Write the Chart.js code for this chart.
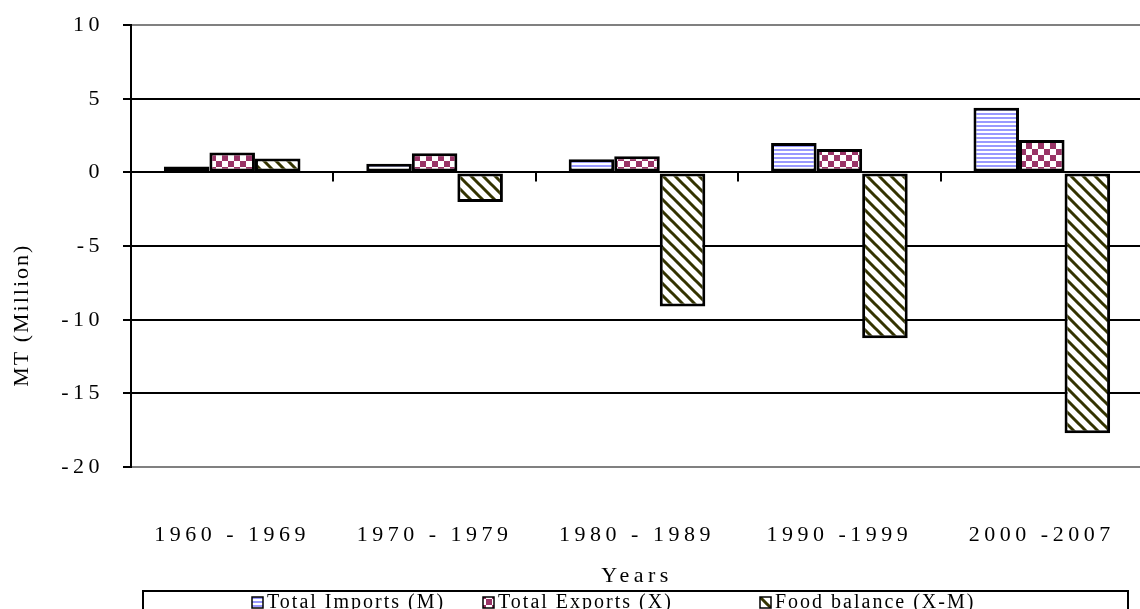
<!DOCTYPE html>
<html>
<head>
<meta charset="utf-8">
<script src="https://cdn.jsdelivr.net/npm/chart.js@4.4.1/dist/chart.umd.min.js"></script>
<style>
  html, body { margin: 0; padding: 0; background: #fff; overflow: hidden; }
  #balanceChart { display: block; margin-top: -7px; }
</style>
</head>
<body>
<canvas id="balanceChart" width="1170" height="631"></canvas>
<script>
// Data (MT, million)
const periods = ["1960 - 1969", "1970 - 1979", "1980 - 1989", "1990 -1999", "2000 -2007"];
const imports = [0.4, 0.6, 0.9, 2.0, 4.4];
const exportsX = [1.35, 1.3, 1.1, 1.6, 2.2];
const foodBalance = [0.95, -2.0, -9.1, -11.25, -17.7];
const seriesNames = ["Total Imports (M)", "Total Exports (X)", "Food balance (X-M)"];
const yMin = -20, yMax = 10, yStep = 5;

const SERIF = "'Liberation Serif', 'DejaVu Serif', serif";

// Fill patterns like the old Excel ones
function makeTile(w, h, paint) {
  const c = document.createElement("canvas");
  c.width = w; c.height = h;
  const g = c.getContext("2d");
  g.fillStyle = "#fff";
  g.fillRect(0, 0, w, h);
  paint(g);
  return document.createElement("canvas").getContext("2d").createPattern(c, "repeat");
}

const stripes = makeTile(4, 4, (g) => {
  g.fillStyle = "#9999ff";
  g.fillRect(0, 0, 4, 2);
});

const checker = makeTile(12, 12, (g) => {
  g.fillStyle = "#993366";
  g.fillRect(0, 0, 6, 6);
  g.fillRect(6, 6, 6, 6);
});

const diagonal = makeTile(12, 12, (g) => {
  g.strokeStyle = "#333300";
  g.lineWidth = 3;
  g.beginPath();
  g.moveTo(-3, -3); g.lineTo(15, 15);
  g.moveTo(-3, 9); g.lineTo(3, 15);
  g.moveTo(9, -3); g.lineTo(15, 3);
  g.stroke();
});

// Wider letters, like the scanned chart
const spacing = {
  id: "spacing",
  beforeLayout(chart) { chart.ctx.letterSpacing = "4.5px"; },
  beforeDraw(chart) { chart.ctx.letterSpacing = "4.5px"; }
};

// Small tick marks on the zero line between categories + y title + boxed legend
const extras = {
  id: "extras",
  afterDraw(chart) {
    const ctx = chart.ctx;
    const x = chart.scales.x;
    const y = chart.scales.y;
    const area = chart.chartArea;
    const y0 = y.getPixelForValue(0);
    const step = x.width / periods.length;

    ctx.save();
    ctx.strokeStyle = "#000";
    ctx.lineWidth = 2;
    for (let i = 1; i <= periods.length; i++) {
      const px = Math.round(x.left + i * step);
      ctx.beginPath();
      ctx.moveTo(px, y0);
      ctx.lineTo(px, y0 + 9);
      ctx.stroke();
    }

    // y axis title (sits a bit below the middle, as in the original)
    ctx.translate(22, area.top + 290);
    ctx.rotate(-Math.PI / 2);
    ctx.font = "22px " + SERIF;
    ctx.letterSpacing = "2px";
    ctx.fillStyle = "#000";
    ctx.textAlign = "center";
    ctx.textBaseline = "middle";
    ctx.fillText("MT (Million)", 0, 0);
    ctx.restore();

    // legend in a box under the axis title
    const box = { left: 143, right: 1128, top: Math.round(x.bottom) };
    const itemX = [252, 483, 760];
    ctx.save();
    ctx.strokeStyle = "#000";
    ctx.lineWidth = 2;
    ctx.strokeRect(box.left, box.top, box.right - box.left, 40);
    ctx.font = "20px " + SERIF;
    ctx.letterSpacing = "2px";
    ctx.textBaseline = "middle";
    const cy = box.top + 11;
    chart.data.datasets.forEach((ds, i) => {
      ctx.fillStyle = ds.backgroundColor;
      ctx.fillRect(itemX[i], cy - 5, 11, 11);
      ctx.lineWidth = 1.5;
      ctx.strokeRect(itemX[i], cy - 5, 11, 11);
      ctx.fillStyle = "#000";
      ctx.fillText(ds.label, itemX[i] + 15, cy + 1);
    });
    ctx.restore();
  }
};

const barStyle = {
  borderColor: "#000",
  borderWidth: 3,
  borderSkipped: false,
  categoryPercentage: 0.675,
  barPercentage: 1.0
};

new Chart(document.getElementById("balanceChart"), {
  type: "bar",
  data: {
    labels: periods,
    datasets: [
      { label: seriesNames[0], data: imports, backgroundColor: stripes, ...barStyle },
      { label: seriesNames[1], data: exportsX, backgroundColor: checker, ...barStyle },
      { label: seriesNames[2], data: foodBalance, backgroundColor: diagonal, ...barStyle }
    ]
  },
  options: {
    responsive: false,
    devicePixelRatio: 1,
    animation: false,
    layout: { autoPadding: false, padding: { left: 0, right: 3, top: 25, bottom: 33 } },
    plugins: {
      legend: { display: false },
      tooltip: { enabled: false }
    },
    scales: {
      x: {
        grid: { display: false, drawTicks: false },
        border: { display: false },
        ticks: {
          color: "#000",
          padding: 55,
          font: { family: SERIF, size: 22 },
          maxRotation: 0
        },
        title: {
          display: true,
          text: "Years",
          color: "#000",
          font: { family: SERIF, size: 22 },
          padding: { top: 0, bottom: 2 }
        },
        afterFit(scale) { scale.height = 124; }
      },
      y: {
        min: yMin,
        max: yMax,
        ticks: {
          stepSize: yStep,
          color: "#000",
          padding: 19,
          font: { family: SERIF, size: 22 }
        },
        grid: {
          color: (c) => (c.tick && (c.tick.value === yMax || c.tick.value === yMin)) ? "#808080" : "#000",
          lineWidth: 2,
          drawTicks: true,
          tickLength: 8,
          tickColor: "#000"
        },
        border: { display: true, color: "#000", width: 2 },
        afterFit(scale) { scale.width = 131; }
      }
    }
  },
  plugins: [spacing, extras]
});
</script>
</body>
</html>
